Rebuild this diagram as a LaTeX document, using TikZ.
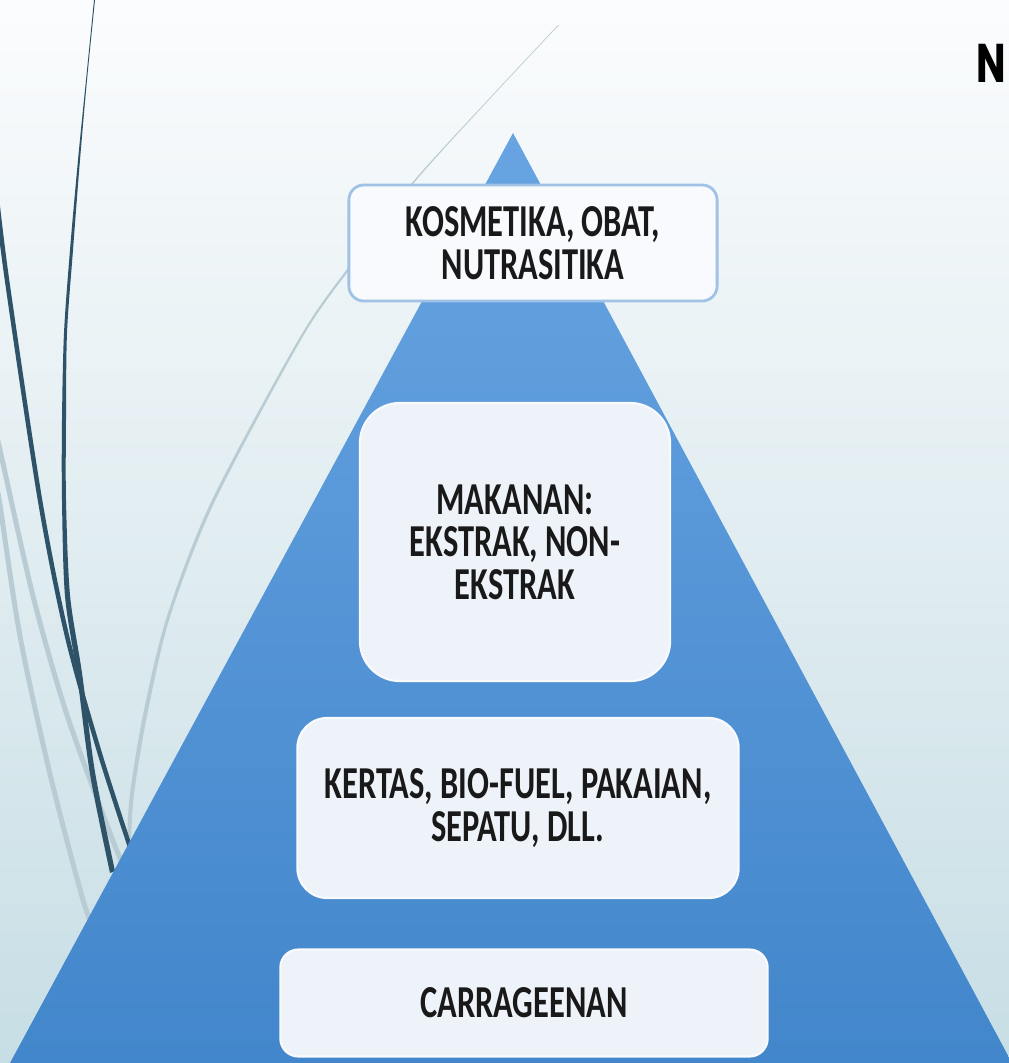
\documentclass[tikz,border=0pt]{standalone}
\usepackage{fontspec}
\newfontfamily\boxfont[FakeStretch=0.71]{Carlito}
\newfontfamily\titlefont[FakeStretch=0.72]{Poppins}
\definecolor{bgtop}{RGB}{251,252,253}
\definecolor{bgbot}{RGB}{199,222,229}
\definecolor{tritop}{RGB}{104,164,226}
\definecolor{tribot}{RGB}{66,134,203}
\definecolor{darkline}{RGB}{46,83,104}
\definecolor{lightline}{RGB}{185,204,212}
\definecolor{boxfill}{RGB}{238,243,250}
\definecolor{boxedge}{RGB}{160,194,230}
\begin{document}
\begin{tikzpicture}[x=0.01cm, y=-0.01cm,
        levelbox/.style={draw=white!60!boxfill, line width=0.6pt, fill=boxfill, align=center,
            font=\boxfont\bfseries\fontsize{13}{12.1}\selectfont, text=black!90},
        linecurve/.style={line width=0.05cm, line cap=round}]
        \useasboundingbox (0,0) rectangle (1009,1063);
        
        % Latar
        \shade[top color=bgtop, bottom color=bgbot] (0,0) rectangle (1009,1063);
        
        % Garis lengkung terang
        \draw[linecurve, lightline] plot[smooth] coordinates {(-3,440) (0,450) (33,596) (67,715) (110,833) (125,870)};
        \draw[linecurve, lightline] plot[smooth] coordinates {(-2,495) (0,505) (20,636) (50,774) (83,900) (95,930)};
        \fill[lightline] plot[smooth] coordinates {(558,25) (485,103) (412,183) (350,265) (300,337) (212,500) (167,616) (143,715) (130,794) (127,841) (126,870)}
            -- plot[smooth] coordinates {(130,870) (131,841) (134,794) (147,716) (170,617) (215,501) (302,338) (352,266) (413,184) (486,103) (559,25)} -- cycle;
        
        % Garis lengkung gelap
        \draw[linecurve, line width=0.045cm, darkline] plot[smooth] coordinates {(-4,190) (7,280) (40,500) (67,636) (100,754) (135,862)};
        \fill[darkline] plot[smooth] coordinates {(94,0) (86,80) (78,160) (70,250) (64,333) (62,420) (62,500) (65,596) (77,675) (90,774) (110,873)}
            -- plot[smooth] coordinates {(115,871) (95,772) (82,673) (70,595) (66,500) (66,420) (67,333) (73,250) (80,160) (87,80) (95,0)} -- cycle;
        
        % Piramida
        \shade[top color=tritop, bottom color=tribot] (513,133) -- (1012,1063) -- (10,1063) -- cycle;
        
        % Kotak tingkat
        \node[levelbox, fill=white!60!boxfill, draw=boxedge, line width=0.8pt, rounded corners=0.15cm,
            minimum width=3.68cm, minimum height=1.16cm] (kosmetik) at (533,243)
            {KOSMETIKA, OBAT,\\NUTRASITIKA};
        \node[levelbox, rounded corners=0.4cm, minimum width=3.1cm, minimum height=2.78cm] (makanan) at (515,542)
            {MAKANAN:\\EKSTRAK, NON-\\EKSTRAK};
        \node[levelbox, rounded corners=0.3cm, minimum width=4.41cm, minimum height=1.8cm] (kertas) at (518,808)
            {KERTAS, BIO-FUEL, PAKAIAN,\\SEPATU, DLL.};
        \node[levelbox, rounded corners=0.18cm, minimum width=4.87cm, minimum height=1.07cm] (carrageenan) at (524,1003)
            {CARRAGEENAN};
        
        % Judul terpotong
        \node[anchor=base west, inner sep=0pt, font=\titlefont\bfseries\fontsize{15.5}{16}\selectfont] (judul) at (976,82) {N};
    \end{tikzpicture}
\end{document}
